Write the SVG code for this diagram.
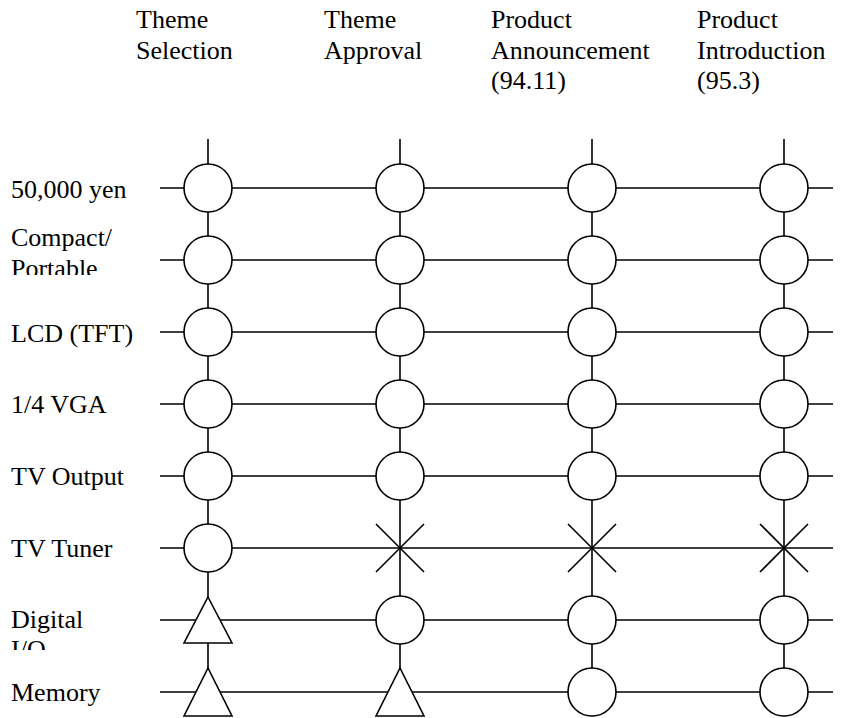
<svg xmlns="http://www.w3.org/2000/svg" width="842" height="718" viewBox="0 0 842 718">
<style>
text{font-family:"Liberation Serif","Times New Roman",serif;font-size:26px;fill:#000}
.ln{stroke:#000;stroke-width:1.6;fill:none}
.nd{stroke:#000;stroke-width:1.6;fill:#fff}
</style>
<defs>
<clipPath id="c2"><rect x="0" y="200" width="160" height="75"/></clipPath>
<clipPath id="c7"><rect x="0" y="580" width="160" height="70"/></clipPath>
<circle id="o" r="24" class="nd"/>
<path id="x" d="M-24,-24L24,24M24,-24L-24,24" class="ln"/>
</defs>
<g id="headers">
<text x="136" y="28">Theme</text><text x="136" y="59">Selection</text>
<text x="324" y="28">Theme</text><text x="324" y="59">Approval</text>
<text x="491" y="28">Product</text><text x="491" y="59">Announcement</text><text x="491" y="89">(94.11)</text>
<text x="697" y="28">Product</text><text x="697" y="59">Introduction</text><text x="697" y="89">(95.3)</text>
</g>
<g id="labels">
<text x="11" y="198">50,000 yen</text>
<g clip-path="url(#c2)"><text x="11" y="246">Compact/</text><text x="11" y="277">Portable</text></g>
<text x="11" y="342">LCD (TFT)</text>
<text x="11" y="413">1/4 VGA</text>
<text x="11" y="485">TV Output</text>
<text x="11" y="557">TV Tuner</text>
<g clip-path="url(#c7)"><text x="11" y="628">Digital</text><text x="11" y="658">I/O</text></g>
<text x="11" y="701">Memory</text>
</g>
<g id="connectors">
<path class="ln" d="M160,188H833M160,260H833M160,332H833M160,404H833M160,476H833M160,548H833M160,620H833M160,692H833"/>
<path class="ln" d="M208,139V668M400,139V668M592,139V668M784,139V668"/>
</g>
<g id="nodes">
<g id="n-col1">
<use href="#o" x="208" y="188"/><use href="#o" x="208" y="260"/><use href="#o" x="208" y="332"/><use href="#o" x="208" y="404"/><use href="#o" x="208" y="476"/><use href="#o" x="208" y="548"/>
<path class="nd" d="M208,597L232,643H184Z"/>
<path class="nd" d="M208,668L232,716H184Z"/>
</g>
<g id="n-col2">
<use href="#o" x="400" y="188"/><use href="#o" x="400" y="260"/><use href="#o" x="400" y="332"/><use href="#o" x="400" y="404"/><use href="#o" x="400" y="476"/>
<use href="#x" x="400" y="548"/>
<use href="#o" x="400" y="620"/>
<path class="nd" d="M400,668L424,716H376Z"/>
</g>
<g id="n-col3">
<use href="#o" x="592" y="188"/><use href="#o" x="592" y="260"/><use href="#o" x="592" y="332"/><use href="#o" x="592" y="404"/><use href="#o" x="592" y="476"/>
<use href="#x" x="592" y="548"/>
<use href="#o" x="592" y="620"/><use href="#o" x="592" y="692"/>
</g>
<g id="n-col4">
<use href="#o" x="784" y="188"/><use href="#o" x="784" y="260"/><use href="#o" x="784" y="332"/><use href="#o" x="784" y="404"/><use href="#o" x="784" y="476"/>
<use href="#x" x="784" y="548"/>
<use href="#o" x="784" y="620"/><use href="#o" x="784" y="692"/>
</g>
</g>
</svg>
